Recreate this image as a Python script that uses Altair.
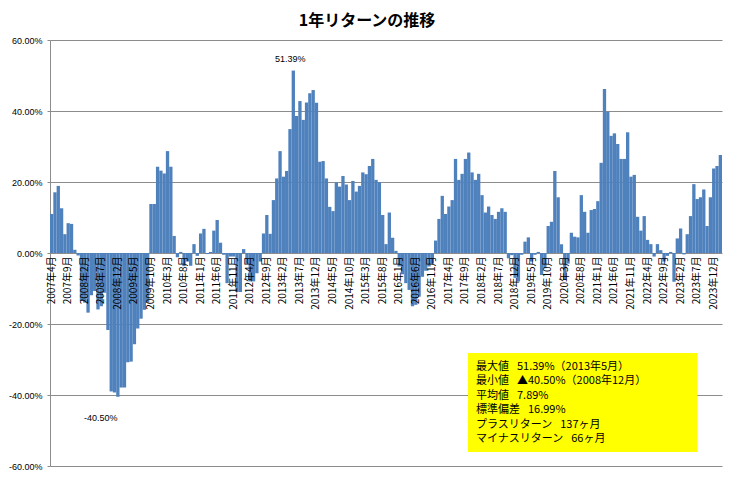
import altair as alt
import pandas as pd

TITLE = "1年リターンの推移"
START_YEAR, START_MONTH = 2007, 4

# 1-year return (%) per month, 2007年4月 .. 2024年2月
RETURNS = [
    11.0, 17.1, 18.9, 12.6, 5.3, 8.4, 8.2, 0.9, -0.7, -13.5,
    -14.0, -16.8, -11.9, -10.7, -15.9, -15.0, -11.2, -21.7, -39.0, -39.3,
    -40.5, -37.9, -37.9, -30.8, -30.6, -25.7, -21.3, -18.5, -16.0, -14.0,
    13.8, 13.8, 24.3, 23.2, 22.4, 28.7, 24.3, 4.8, -1.2, 0.3,
    -3.7, -2.4, -3.6, 2.5, -0.8, 5.5, 6.8, -0.3, 0.3, 6.3,
    9.3, 2.9, -0.5, -8.5, -1.0, -1.0, -11.0, -11.0, 1.1, -3.0,
    -8.0, -8.0, -5.7, -2.4, 5.5, 10.7, 5.4, 14.9, 21.0, 28.7,
    21.5, 23.1, 34.9, 51.39, 38.6, 42.8, 37.5, 42.4, 45.0, 45.9,
    42.3, 25.7, 25.9, 21.0, 13.0, 11.8, 19.9, 18.7, 21.7, 19.3,
    14.9, 20.3, 17.3, 18.9, 22.7, 22.2, 24.5, 26.5, 20.6, 19.9,
    10.7, 2.5, 11.4, 4.3, 0.6, -3.8, -6.0, -8.5, -10.4, -15.0,
    -14.6, -12.3, -6.7, -5.0, -3.8, -3.0, 3.5, 9.6, 16.1, 11.0,
    13.1, 14.9, 26.5, 20.6, 22.3, 26.5, 28.3, 22.7, 20.6, 22.3,
    16.3, 11.4, 13.1, 10.7, 9.6, 11.6, 12.6, 11.6, -1.5, -0.6,
    -7.0, -8.0, -0.5, 3.2, 4.4, -2.4, -0.5, 0.3, -6.2, -4.3,
    7.6, 8.8, 23.1, 15.7, 2.5, -7.6, -3.0, 5.7, 4.6, 4.4,
    16.3, 11.6, 5.7, 12.1, 12.4, 14.6, 25.4, 46.2, 39.8, 33.0,
    33.7, 30.7, 26.5, 26.5, 34.0, 21.5, 22.0, 10.2, 6.3, 10.4,
    3.7, 2.5, -1.0, 2.5, 0.8, -2.4, -0.8, 0.3, -8.1, 4.1,
    6.9, -0.4, 5.3, 10.4, 19.4, 15.2, 15.7, 17.9, 7.6, 15.7,
    23.8, 24.5, 27.6,
]

MONTHS = []
_y, _m = START_YEAR, START_MONTH
for _ in RETURNS:
    MONTHS.append(f"{_y}年{_m}月")
    _m += 1
    if _m > 12:
        _m = 1
        _y += 1

TICK_LABELS = MONTHS[::5]
Y_TICKS = [-0.6, -0.4, -0.2, 0.0, 0.2, 0.4, 0.6]

MAX_POINT = ["2013年5月", 51.39, "51.39%"]
MIN_POINT = ["2008年12月", -40.50, "-40.50%"]

GAP = "\u2002\u00a0"
STATS_LINES = [
    "最大値" + GAP + "51.39%（2013年5月）",
    "最小値" + GAP + "▲40.50%（2008年12月）",
    "平均値" + GAP + "7.89%",
    "標準偏差" + GAP + "16.99%",
    "プラスリターン" + GAP + "137ヶ月",
    "マイナスリターン" + GAP + "66ヶ月",
]

JP = "Noto Sans CJK JP"
LAT = "Liberation Sans"
GRID = "#8c8c8c"
W, H = 672, 426

df = pd.DataFrame({"month": MONTHS, "value": [v / 100 for v in RETURNS]})

x_enc = alt.X(
    "month:N",
    scale=alt.Scale(domain=MONTHS, paddingInner=0, paddingOuter=0),
    axis=alt.Axis(
        values=TICK_LABELS, labelAngle=270, offset=-H / 2, domain=False,
        ticks=False, grid=False, title=None, labelFont=JP, labelFontSize=10,
        labelColor="#000000", labelPadding=3, zindex=1, labelOverlap=False,
    ),
)
y_enc = alt.Y(
    "value:Q",
    scale=alt.Scale(domain=[-0.6, 0.6], nice=False),
    axis=alt.Axis(
        values=Y_TICKS,
        labelExpr="(datum.value < 0 ? '-' : '') + format(abs(datum.value) * 100, '.2f') + '%'",
        grid=True, gridColor=GRID, gridWidth=1, domainColor=GRID,
        tickColor=GRID, tickSize=3, labelFont=LAT, labelFontSize=9,
        labelColor="#000000", labelPadding=5, title=None,
    ),
)

bars = alt.Chart(df).mark_bar(color="#4F81BD").encode(x=x_enc, y=y_enc)

max_df = pd.DataFrame({"month": [MAX_POINT[0]], "value": [MAX_POINT[1] / 100], "label": [MAX_POINT[2]]})
min_df = pd.DataFrame({"month": [MIN_POINT[0]], "value": [MIN_POINT[1] / 100], "label": [MIN_POINT[2]]})

max_txt = alt.Chart(max_df).mark_text(
    font=LAT, fontSize=9, color="#000000", dx=-3, dy=-12, baseline="middle"
).encode(x=x_enc, y=y_enc, text="label:N")
min_txt = alt.Chart(min_df).mark_text(
    font=LAT, fontSize=9, color="#000000", dx=-17, dy=21, baseline="middle"
).encode(x=x_enc, y=y_enc, text="label:N")

one = pd.DataFrame({"k": [0]})
box = alt.Chart(one).mark_rect(color="#FFFF00").encode(
    x=alt.value(418), x2=alt.value(647.5), y=alt.value(313), y2=alt.value(412)
)
stat_layers = []
for k, line in enumerate(STATS_LINES):
    stat_layers.append(
        alt.Chart(one).mark_text(
            align="left", baseline="middle", font=JP, fontSize=11, color="#000000"
        ).encode(x=alt.value(426), y=alt.value(326.5 + 14.5 * k), text=alt.value(line))
    )

chart = (
    alt.layer(bars, max_txt, min_txt, box, *stat_layers)
    .properties(
        width=W,
        height=H,
        title=alt.TitleParams(
            TITLE, font=JP, fontSize=16, fontWeight="bold", color="#000000",
            anchor="middle", dx=-19, offset=7,
        ),
        padding={"left": 42, "top": 32, "right": 4, "bottom": 5},
        autosize=alt.AutoSizeParams(type="none"),
        background="white",
    )
    .configure_view(strokeWidth=0)
)

chart.save("out.html", embed_options={"renderer": "svg", "actions": False})
